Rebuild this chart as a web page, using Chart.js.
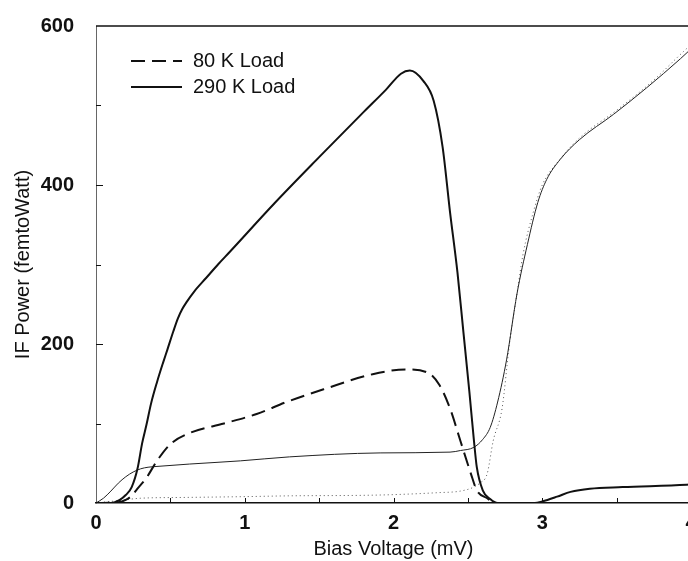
<!DOCTYPE html>
<html>
<head>
<meta charset="utf-8">
<script src="https://cdn.jsdelivr.net/npm/chart.js@4"></script>
<style>
  html, body { margin: 0; padding: 0; overflow: hidden; background: #fff; }
  #wrap { position: absolute; left: 0; top: 0; width: 720px; height: 561px; }
</style>
</head>
<body>
<div id="wrap"><canvas id="ifChart" width="720" height="561"></canvas></div>
<script>
// 290 K load, pumped (thick solid)
const hotV = [0, 0.10, 0.16, 0.20, 0.24, 0.28, 0.31, 0.34, 0.37, 0.41, 0.45, 0.48, 0.52, 0.55, 0.58, 0.61, 0.66, 0.74, 0.82, 0.90, 1.20, 1.50, 1.80, 1.95, 2.05, 2.11, 2.20, 2.27, 2.33, 2.38, 2.43, 2.47, 2.51, 2.54, 2.56, 2.60, 2.65, 2.70, 2.95, 3.00, 3.10, 3.19, 3.32, 3.54, 3.97, 4.05];
const hotP = [0, 0, 4, 10, 20, 44, 75, 99, 125, 152, 176, 193, 216, 232, 244, 253, 266, 283, 300, 316, 377, 435, 492, 520, 540, 544, 531, 506, 448, 366, 290, 215, 140, 80, 45, 16, 5, 0, 0, 2, 8, 14, 18, 20, 23, 24];

// 80 K load, pumped (dashed)
const coldV = [0, 0.15, 0.20, 0.24, 0.27, 0.34, 0.41, 0.50, 0.63, 0.86, 1.08, 1.28, 1.53, 1.86, 2.09, 2.23, 2.31, 2.38, 2.45, 2.52, 2.56, 2.63, 2.68, 2.95];
const coldP = [0, 1, 4, 9, 16, 32, 53, 74, 88, 100, 112, 127, 143, 162, 168, 164, 148, 119, 78, 37, 16, 6, 0, 0];

// unpumped, 290 K load (thin solid)
const thinV = [0, 0.05, 0.10, 0.15, 0.20, 0.25, 0.30, 0.35, 0.41, 0.63, 0.97, 1.30, 1.91, 2.38, 2.45, 2.54, 2.60, 2.65, 2.70, 2.76, 2.83, 2.90, 2.97, 3.03, 3.12, 3.25, 3.48, 3.70, 3.93, 4.05];
const thinP = [0, 6, 15, 25, 33, 39, 43, 45, 46, 49, 53, 58, 63, 64, 66, 70, 80, 95, 127, 180, 263, 325, 378, 407, 432, 457, 489, 522, 559, 580];

// unpumped, 80 K load (dotted)
const dotV = [0, 0.15, 0.30, 0.60, 1.00, 1.30, 1.90, 2.30, 2.45, 2.54, 2.58, 2.63, 2.67, 2.73, 2.78, 2.83, 2.87, 2.94, 3.00, 3.10, 3.25, 3.50, 3.75, 3.95, 4.05];
const dotP = [0, 3, 6, 7, 8, 9, 10, 13, 15, 20, 25, 37, 78, 119, 201, 263, 312, 366, 400, 428, 459, 494, 532, 568, 585];

const xTicks = [0, 1, 2, 3, 4];
const yTicks = [0, 200, 400, 600];

const FONT = "'Liberation Sans', Arial, Helvetica, sans-serif";
const pts = (vs, ps) => vs.map((v, i) => ({ x: v, y: ps[i] }));

// inward tick marks, top frame line and in-plot legend
const framePlugin = {
  id: "frame",
  afterDraw(chart) {
    const { ctx, chartArea: a, scales: { x, y } } = chart;
    ctx.save();
    ctx.strokeStyle = "#111";
    ctx.lineWidth = 1.5;
    ctx.beginPath();
    ctx.moveTo(a.left, a.top);
    ctx.lineTo(a.right + 5, a.top);
    ctx.stroke();

    ctx.lineWidth = 1;
    ctx.beginPath();
    for (let v = 100; v < 600; v += 100) {
      const py = Math.round(y.getPixelForValue(v)) + 0.5;
      ctx.moveTo(a.left, py);
      ctx.lineTo(a.left + (v % 200 === 0 ? 7 : 5), py);
    }
    for (let v = 0.5; v <= 4; v += 0.5) {
      const px = Math.round(x.getPixelForValue(v)) + 0.5;
      ctx.moveTo(px, a.bottom);
      ctx.lineTo(px, a.bottom - 5);
    }
    ctx.stroke();

    // legend
    const rows = [chart.data.datasets[0], chart.data.datasets[1]];
    ctx.font = "20px " + FONT;
    ctx.textBaseline = "middle";
    ctx.fillStyle = "#111";
    rows.forEach((ds, i) => {
      const ly = a.top + 35 + i * 26;
      ctx.strokeStyle = ds.borderColor;
      ctx.lineWidth = 2;
      ctx.setLineDash(ds.borderDash || []);
      ctx.beginPath();
      ctx.moveTo(a.left + 35, ly);
      ctx.lineTo(a.left + 86, ly);
      ctx.stroke();
      ctx.setLineDash([]);
      ctx.fillText(ds.label, a.left + 97, ly);
    });
    ctx.restore();
  },
};

const chart = new Chart(document.getElementById("ifChart"), {
  type: "line",
  data: {
    datasets: [
      { label: "80 K Load", data: pts(coldV, coldP), borderColor: "#111", borderWidth: 2, borderDash: [14, 7] },
      { label: "290 K Load", data: pts(hotV, hotP), borderColor: "#111", borderWidth: 2 },
      { label: "290 K Load, unpumped", data: pts(thinV, thinP), borderColor: "#222", borderWidth: 1 },
      { label: "80 K Load, unpumped", data: pts(dotV, dotP), borderColor: "#555", borderWidth: 1, borderDash: [1, 3] },
    ],
  },
  options: {
    responsive: false,
    animation: false,
    clip: { left: 0, top: 0, right: 30, bottom: 0 },
    layout: { padding: { left: 0, top: 17, right: 29, bottom: 0 } },
    elements: {
      point: { radius: 0 },
      line: { cubicInterpolationMode: "monotone", fill: false },
    },
    plugins: { legend: { display: false }, tooltip: { enabled: false } },
    scales: {
      x: {
        type: "linear",
        min: 0,
        max: 4,
        afterFit: (s) => { s.height = 58; },
        afterBuildTicks: (s) => { s.ticks = xTicks.map((v) => ({ value: v })); },
        grid: { display: false },
        border: { display: true, color: "#111", width: 1.5 },
        ticks: { padding: 0, color: "#111", font: { family: FONT, size: 20, weight: "bold" } },
        title: { display: true, text: "Bias Voltage (mV)", color: "#111", font: { family: FONT, size: 20 }, padding: { top: 0, bottom: 0 } },
      },
      y: {
        min: 0,
        max: 600,
        afterFit: (s) => { s.width = 96; },
        afterBuildTicks: (s) => { s.ticks = yTicks.map((v) => ({ value: v })); },
        grid: { display: false },
        border: { display: true, color: "#666", width: 1 },
        ticks: { padding: 14, color: "#111", font: { family: FONT, size: 20, weight: "bold" } },
        title: { display: true, text: "IF Power (femtoWatt)", color: "#111", font: { family: FONT, size: 20 }, padding: { top: 11, bottom: 0 } },
      },
    },
  },
  plugins: [framePlugin],
});
</script>
</body>
</html>
